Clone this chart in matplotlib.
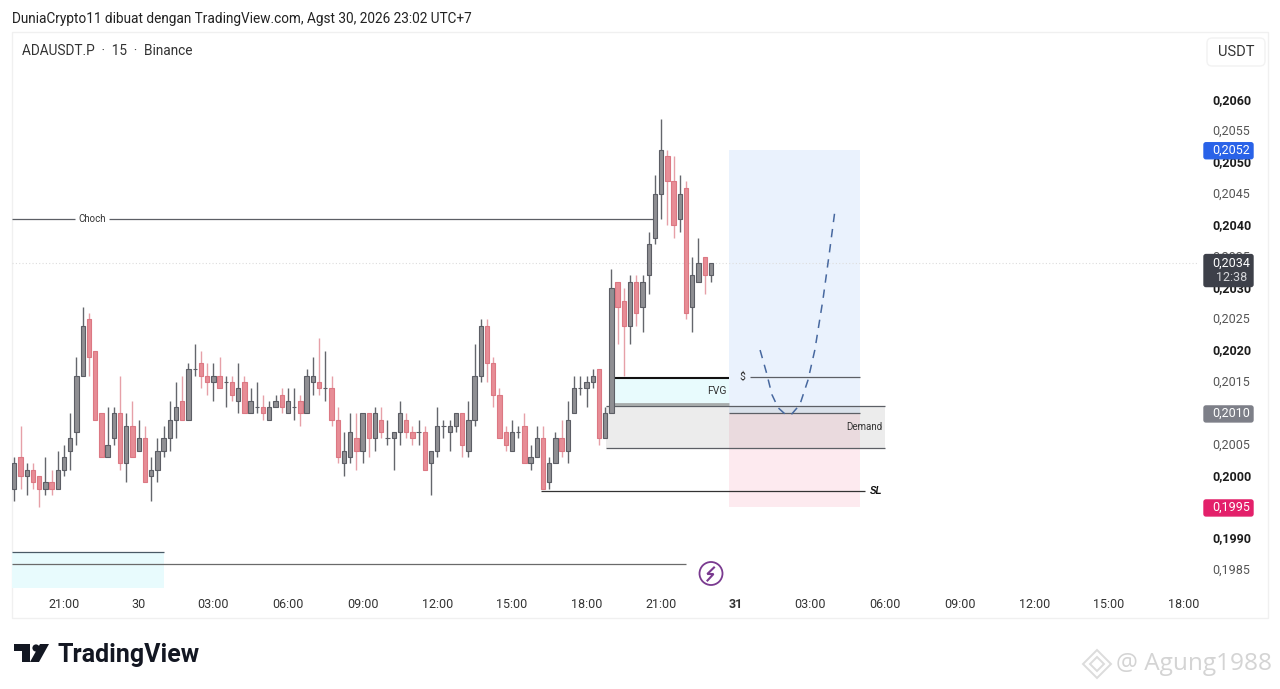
import matplotlib
matplotlib.use("Agg")
import matplotlib.pyplot as plt
from matplotlib.patches import Rectangle, FancyBboxPatch, Polygon, Circle
from matplotlib.transforms import ScaledTranslation

plt.rcParams['font.family'] = ['Roboto', 'DejaVu Sans']

# ---- data (prices in units of 0.0001 USDT) ----
opens = [1998,2003,2000,2001,2000,1998,1999,1998,2001,2004,2007,2016,2025,2020,2010,2003,2006,2010,2002,2008,2004,2006,2000,2001,2004,2006,2009,2012,2009,2017,
         2018,2016,2015,2016,2015,2015,2012,2015,2010,2011,2011,2009,2011,2013,2010,2011,2012,2010,2015,2015,2014,2014,2009,2002,2003,2006,2004,2010,2006,2009,
         2006,2006,2007,2009,2007,2007,2007,2002,2004,2008,2007,2008,2010,2004,2009,2016,2024,2018,2013,2007,2004,2007,2008,2002,2003,2006,1999,2002,2006,2004,
         2010,2014,2014,2015,2017,2006,2010,2031,2028,2024,2031,2027,2032,2038,2045,2051,2047,2041,2046,2027,2031,2035,2032]
closes = [2002,2000,2001,1999,1998,1999,1998,2001,2003,2006,2016,2024,2019,2009,2003,2005,2010,2002,2008,2003,2006,1999,2001,2004,2006,2009,2011,2009,2017,2017,
          2016,2015,2016,2014,2015,2013,2014,2010,2012,2011,2010,2011,2012,2011,2012,2011,2010,2016,2016,2014,2014,2009,2003,2004,2007,2004,2010,2006,2010,2007,
          2006,2007,2010,2007,2006,2007,2001,2004,2008,2008,2008,2010,2005,2009,2016,2024,2018,2013,2006,2005,2007,2007,2002,2003,2006,1998,2002,2006,2004,2009,
          2014,2014,2015,2016,2006,2010,2030,2027,2024,2031,2026,2031,2037,2045,2052,2047,2040,2045,2026,2032,2034,2032,2034]
highs = [2003,2008,2002,2002,2000,2003,2001,2004,2005,2010,2019,2027,2026,2020,2010,2011,2011,2016,2010,2012,2009,2008,2003,2006,2008,2012,2015,2016,2018,2021,
         2020,2018,2018,2019,2016,2016,2018,2016,2014,2015,2013,2012,2013,2014,2014,2014,2013,2017,2019,2022,2020,2016,2011,2007,2010,2010,2010,2010,2011,2011,
         2009,2007,2012,2010,2008,2009,2008,2004,2011,2009,2009,2010,2010,2012,2021,2025,2025,2019,2014,2008,2009,2008,2010,2005,2008,2008,2003,2007,2009,2012,
         2016,2016,2016,2017,2017,2011,2033,2031,2030,2032,2032,2032,2039,2048,2057,2052,2051,2048,2047,2035,2038,2035,2034]
lows = [1996,1998,1997,1998,1995,1997,1997,1998,2000,2001,2005,2016,2016,2009,2003,2003,2005,2001,1999,2003,2004,1999,1996,1999,2003,2004,2006,2009,2009,2016,
        2014,2013,2012,2014,2011,2012,2010,2010,2010,2010,2009,2009,2011,2010,2010,2009,2008,2010,2013,2013,2012,2008,2002,2000,2002,2001,2002,2003,2004,2006,
        2005,2001,2005,2006,2005,2005,2001,1997,2003,2006,2004,2007,2003,2003,2008,2015,2015,2011,2006,2004,2004,2006,2002,2001,2003,1998,1998,2002,2003,2002,
        2010,2013,2011,2014,2005,2006,2010,2021,2016,2021,2024,2023,2029,2037,2041,2040,2038,2039,2025,2023,2031,2029,2031]

price_ticks = [2060,2055,2050,2045,2040,2035,2030,2025,2020,2015,2005,2000,1990,1985]
price_labels = ['0,2060','0,2055','0,2050','0,2045','0,2040','0,2035','0,2030','0,2025','0,2020','0,2015','0,2005','0,2000','0,1990','0,1985']
bold_prices = [2060,2050,2040,2030,2020,2000,1990]

time_ticks = [9,21,33,45,57,69,81,93,105,117,129,141,153,165,177,189]
time_labels = ['21:00','30','03:00','06:00','09:00','12:00','15:00','18:00','21:00','31','03:00','06:00','09:00','12:00','15:00','18:00']

plan_x = [120.9,121.9,122.8,123.8,124.9,126.0,127.3,128.6,129.7,131.0,132.0,132.9]
plan_y = [2020.1,2016.6,2013.0,2010.9,2009.9,2009.9,2011.4,2015.3,2020.1,2028.1,2035.3,2042.1]

entry, target, stop = 2010, 2052, 1995
last_price = 2034

W, H = 1280, 689
PX = 6.22          # pixels per bar
PY = 6.267         # pixels per 0.0001
Y60 = 100.0        # pixel row of 0.2060

fig = plt.figure(figsize=(W/100, H/100), dpi=100, facecolor='white')
def rect(l, t, r, b):
    return [l/W, 1-b/H, (r-l)/W, (b-t)/H]

under = fig.add_axes([0, 0, 1, 1], zorder=0)
under.set_xlim(0, W); under.set_ylim(H, 0); under.axis('off')
under.add_patch(Rectangle((12, 32), 1256, 586, fc='white', ec='#f0f0f0', lw=1))

ax = fig.add_axes(rect(12, 32, 1197, 588), zorder=1)
ax.patch.set_alpha(0)
L, R = 12, 1197
xf = lambda px: 1 + (px-14.3)/PX
ax.set_xlim(xf(L), xf(R))
ax.set_ylim(2060-(588-Y60)/PY, 2060+(Y60-32)/PY)
for s in ax.spines.values():
    s.set_visible(False)

# ---- zones ----
ax.add_patch(Rectangle((xf(729), entry), xf(860)-xf(729), target-entry, fc='#eaf2fd', ec='none', zorder=1))
ax.add_patch(Rectangle((xf(729), stop), xf(860)-xf(729), entry-stop, fc='#fdeaef', ec='none', zorder=1))
ax.add_patch(Rectangle((xf(606), 2004.4), xf(885)-xf(606), 2011.1-2004.4, fc='#7a7a7a', alpha=0.14, ec='none', zorder=2))
ax.add_patch(Rectangle((xf(612), 2011.5), xf(729)-xf(612), 2015.7-2011.5, fc='#e8fbfd', ec='none', zorder=1))
ax.add_patch(Rectangle((xf(12), 1982), xf(164)-xf(12), 1987.8-1982, fc='#e8fbfd', ec='none', zorder=1))

line = dict(color='#5c5f65', lw=0.9, zorder=3)
ax.hlines(2041, xf(12), xf(75), **line)
ax.hlines(2041, xf(109), xf(654), **line)
ax.hlines(2015.8, xf(750), xf(860), **line)
ax.hlines(2015.7, xf(612), xf(729), color='#111111', lw=1.5, zorder=3)
ax.hlines(2011.5, xf(612), xf(729), color='#a8acac', lw=2, zorder=3)
ax.hlines(2011.1, xf(606), xf(885), **line)
ax.hlines(2004.4, xf(606), xf(885), **line)
ax.hlines(entry, xf(729), xf(860), **line)
ax.hlines(1997.6, xf(541), xf(865), color='#333333', lw=0.9, zorder=3)
ax.hlines(1987.8, xf(12), xf(164), color='#4a5a66', lw=0.9, zorder=3)
ax.hlines(1985.9, xf(12), xf(686), color='#6a6a6a', lw=0.9, zorder=3)
ax.hlines(last_price, xf(12), xf(1197), color='#dddddd', lw=0.8, linestyles=(0, (1, 2)), zorder=1)

ax.plot(plan_x, plan_y, color='#47689f', lw=1.1, ls=(0, (5.5, 4.5)), zorder=4)

ax.text(xf(92), 2041, 'Choch', fontsize=7, color='#333333', ha='center', va='center', zorder=5)
ax.text(xf(717), 2013.5, 'FVG', fontsize=7.5, color='#333333', ha='center', va='center', zorder=5)
ax.text(xf(742), 2015.9, '$', fontsize=7.5, color='#333333', ha='center', va='center', zorder=5)
ax.text(xf(864), 2007.8, 'Demand', fontsize=7, color='#333333', ha='center', va='center', zorder=5)
ax.text(xf(876), 1997.6, 'SL', fontsize=7, color='#111111', fontweight='bold', style='italic',
        family='Liberation Sans', ha='center', va='center', zorder=5)

# ---- candles ----
gray_face, gray_edge, gray_wick = '#8f8f93', '#5c5e65', '#64666c'
red_face, red_edge, red_wick = '#e78d96', '#dc7883', '#e6a0a8'
for i, (o, c, h, l) in enumerate(zip(opens, closes, highs, lows), start=1):
    up = c >= o
    ax.vlines(i, l, h, color=gray_wick if up else red_wick, lw=1.0, zorder=6)
    ax.bar(i, abs(c-o), bottom=min(o, c), width=0.7,
           color=gray_face if up else red_face,
           edgecolor=gray_edge if up else red_edge, linewidth=0.8, zorder=7)

# ---- axes ticks ----
ax.set_xticks(time_ticks, time_labels, fontsize=9, color='#333333')
ax.tick_params(axis='x', length=0, pad=7.5)
for t, lab in zip(ax.get_xticklabels(), time_labels):
    if lab == '31':
        t.set_fontweight('bold')
ax.yaxis.tick_right()
ax.set_yticks(price_ticks, price_labels, fontsize=9)
ax.tick_params(axis='y', length=0, pad=11)
up_shift = ScaledTranslation(0, 1.0/72, fig.dpi_scale_trans)
for t, v in zip(ax.get_yticklabels(), price_ticks):
    b = v in bold_prices
    t.set_fontweight('bold' if b else 'normal')
    t.set_color('#1c1c1c' if b else '#555555')
    t.set_transform(t.get_transform() + up_shift)

# ---- overlay: price tags and page furniture ----
ov = fig.add_axes([0, 0, 1, 1], zorder=5)
ov.set_xlim(0, W); ov.set_ylim(H, 0); ov.axis('off')
price_px = lambda v: Y60 + 0.6 + (2060-v)*PY

def tag(v, txt, color):
    y0 = price_px(v)
    ov.add_patch(FancyBboxPatch((1204, y0-8), 49, 16, boxstyle='round,pad=0,rounding_size=2',
                                fc=color, ec=color, lw=1, zorder=8))
    ov.text(1231.5, y0-0.5, txt, color='white', fontsize=9, ha='center', va='center', zorder=9)

tag(target, '0,2052', '#2962e8')
tag(entry, '0,2010', '#7d7f88')
tag(stop, '0,1995', '#e3206a')
y0 = price_px(last_price)
ov.add_patch(FancyBboxPatch((1204, y0-9), 49, 32, boxstyle='round,pad=0,rounding_size=2',
                            fc='#3d4049', ec='#3d4049', lw=1, zorder=8))
ov.text(1231.5, y0-0.5, '0,2034', color='white', fontsize=9, ha='center', va='center', zorder=9)
ov.text(1231.5, y0+14, '12:38', color='#d5d6da', fontsize=9, ha='center', va='center', zorder=9)

# USDT button
ov.add_patch(FancyBboxPatch((1207, 38), 58, 28, boxstyle='round,pad=0,rounding_size=5',
                            fc='white', ec='#f2f2f2', lw=1))
ov.text(1236, 52, 'USDT', fontsize=10.5, color='#333333', ha='center', va='center')

# titles
ov.text(12, 18.5, 'DuniaCrypto11 dibuat dengan TradingView.com, Agst 30, 2026 23:02 UTC+7',
        fontsize=9.8, color='#222222', ha='left', va='center')
ov.text(22, 51, 'ADAUSDT.P  ·  15  ·  Binance', fontsize=9.8, color='#333333', ha='left', va='center')

# lightning marker
ov.add_patch(Circle((711, 573.5), 11.5, fc='white', ec='#7a3a90', lw=1.3, zorder=8))
ov.plot([714, 707.3, 713.5, 707.5], [567.5, 574, 574, 580.5], color='#7a3a90', lw=1.5, zorder=9, solid_joinstyle='miter')

# TradingView logo
ov.add_patch(Polygon([(14, 644), (30, 644), (30, 662), (22, 662), (22, 651), (14, 651)], closed=True, fc='#131722', ec='none'))
ov.add_patch(Circle((36, 648), 3.6, fc='#131722', ec='none'))
ov.add_patch(Polygon([(40, 644), (49, 644), (39, 662), (30, 662)], closed=True, fc='#131722', ec='none'))
ov.text(57, 655, 'TradingView', fontsize=18, fontweight='bold', color='#131722', ha='left', va='center')

# watermark
ov.text(1116, 664.5, '@ Agung1988', fontsize=17.6, family='Open Sans', color='#d4d4d4', ha='left', va='center')
ov.add_patch(Polygon([(1097, 650), (1111, 664), (1097, 678), (1083, 664)], closed=True, fc='none', ec='#dcdcdc', lw=1.4))
ov.add_patch(Polygon([(1097, 657), (1104, 664), (1097, 671), (1090, 664)], closed=True, fc='none', ec='#dcdcdc', lw=1.4))

fig.savefig('out.png', dpi=100, facecolor='white')
